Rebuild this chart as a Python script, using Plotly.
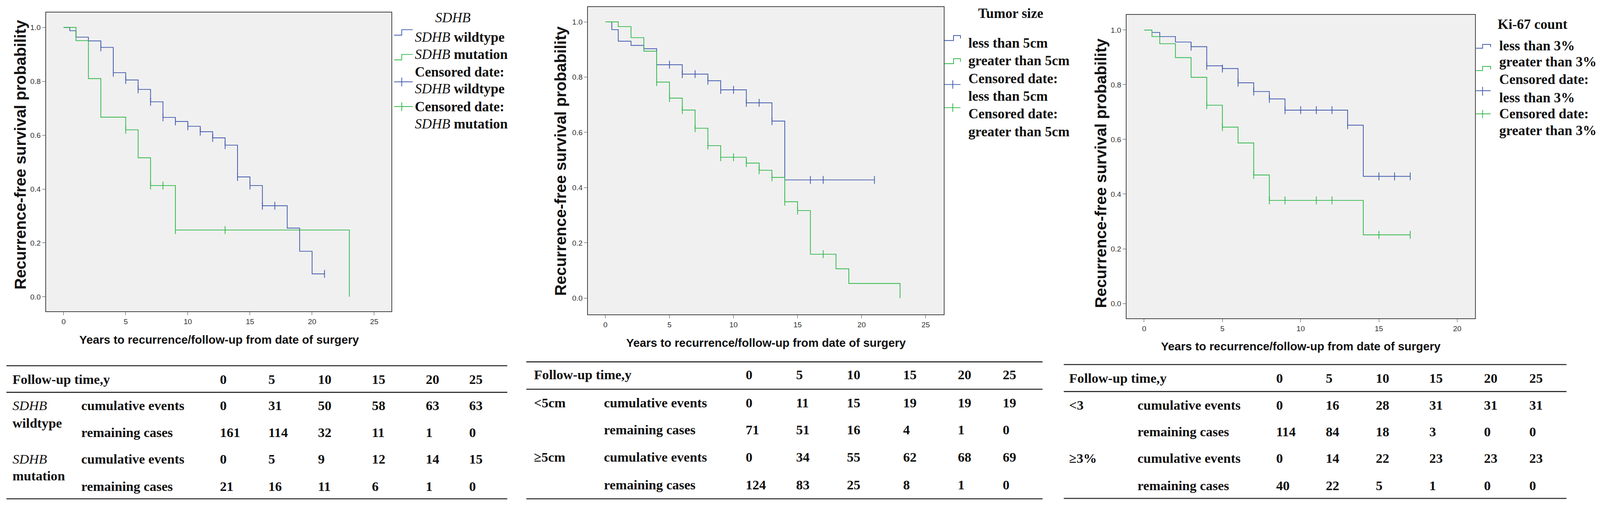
import plotly.graph_objects as go

# reference picture size; positions below are given in its pixels
W, H = 4350, 1293
K = 0.96  # px size factor for fonts / strokes (page renders slightly narrower than W)

BLUE = "#3E58AC"
GREEN = "#2EB848"
INK = "#111111"
RULE = "#333333"
SERIF = "Liberation Serif, Times New Roman, serif"
SANS = "Liberation Sans, Arial, sans-serif"

# ---- Kaplan-Meier curves ----
# panel 1: SDHB
WT_T = [0, 0.5, 1, 2, 3, 4, 5, 6, 7, 8, 9, 10, 11, 12, 13, 14, 15, 16, 18, 19, 20, 21]
WT_S = [1.0, 0.988, 0.964, 0.950, 0.926, 0.832, 0.805, 0.770, 0.724, 0.666, 0.651,
        0.633, 0.613, 0.590, 0.563, 0.445, 0.413, 0.338, 0.255, 0.169, 0.085, 0.085]
WT_CENS = [3, 4, 5, 6, 7, 8, 9, 10, 11, 12, 13, 14, 15, 16, 17, 21]
MUT_T = [0, 1, 2, 3, 5, 6, 7, 9, 23]
MUT_S = [1.0, 0.951, 0.810, 0.667, 0.620, 0.516, 0.413, 0.248, 0.0]
MUT_CENS = [5, 7, 8, 9, 13]

# panel 2: tumor size
LT5_T = [0, 0.5, 1, 2, 3, 4, 6, 8, 9, 11, 13, 14, 21]
LT5_S = [1.0, 0.972, 0.930, 0.915, 0.903, 0.845, 0.811, 0.787, 0.754, 0.707, 0.641, 0.428, 0.428]
LT5_CENS = [4, 5, 6, 7, 8, 9, 10, 11, 12, 13, 16, 17, 21]
GT5_T = [0, 1, 2, 3, 4, 5, 6, 7, 8, 9, 11, 12, 13, 14, 15, 16, 18, 19, 23]
GT5_S = [1.0, 0.983, 0.943, 0.894, 0.782, 0.724, 0.681, 0.615, 0.552, 0.510, 0.489,
         0.463, 0.437, 0.349, 0.317, 0.159, 0.106, 0.053, 0.0]
GT5_CENS = [4, 5, 6, 7, 8, 9, 10, 11, 12, 13, 14, 15, 17]

# panel 3: Ki-67
LT3_T = [0, 0.5, 1, 2, 3, 4, 5, 6, 7, 8, 9, 13, 14, 17]
LT3_S = [1.0, 0.991, 0.976, 0.956, 0.939, 0.869, 0.859, 0.807, 0.775, 0.748, 0.707, 0.652, 0.465, 0.465]
LT3_CENS = [3, 4, 5, 6, 7, 8, 9, 10, 11, 12, 13, 15, 16, 17]
GT3_T = [0, 0.5, 1, 2, 3, 4, 5, 6, 7, 8, 14, 17]
GT3_S = [1.0, 0.976, 0.950, 0.899, 0.827, 0.725, 0.645, 0.587, 0.470, 0.377, 0.251, 0.251]
GT3_CENS = [4, 5, 7, 8, 9, 11, 12, 15, 17]

# ---- risk tables ----
YEARS = [0, 5, 10, 15, 20, 25]
WT_EVENTS = [0, 31, 50, 58, 63, 63]
WT_LEFT = [161, 114, 32, 11, 1, 0]
MUT_EVENTS = [0, 5, 9, 12, 14, 15]
MUT_LEFT = [21, 16, 11, 6, 1, 0]
LT5_EVENTS = [0, 11, 15, 19, 19, 19]
LT5_LEFT = [71, 51, 16, 4, 1, 0]
GT5_EVENTS = [0, 34, 55, 62, 68, 69]
GT5_LEFT = [124, 83, 25, 8, 1, 0]
LT3_EVENTS = [0, 16, 28, 31, 31, 31]
LT3_LEFT = [114, 84, 18, 3, 0, 0]
GT3_EVENTS = [0, 14, 22, 23, 23, 23]
GT3_LEFT = [40, 22, 5, 1, 0, 0]


def fx(x):
    return x / W


def fy(y):
    return 1 - y / H


def at(times, surv, t):
    val = surv[0]
    for ti, si in zip(times, surv):
        if ti <= t:
            val = si
    return val


fig = go.Figure()

curves = [
    ("x", "y", WT_T, WT_S, WT_CENS, BLUE),
    ("x", "y", MUT_T, MUT_S, MUT_CENS, GREEN),
    ("x2", "y2", LT5_T, LT5_S, LT5_CENS, BLUE),
    ("x2", "y2", GT5_T, GT5_S, GT5_CENS, GREEN),
    ("x3", "y3", LT3_T, LT3_S, LT3_CENS, BLUE),
    ("x3", "y3", GT3_T, GT3_S, GT3_CENS, GREEN),
]
for xa, ya, t, s, cens, col in curves:
    fig.add_trace(go.Scatter(x=t, y=s, mode="lines", xaxis=xa, yaxis=ya,
                             line=dict(shape="hv", color=col, width=2 * K),
                             showlegend=False, hoverinfo="skip"))
    fig.add_trace(go.Scatter(x=cens, y=[at(t, s, c) for c in cens], mode="markers",
                             xaxis=xa, yaxis=ya, showlegend=False, hoverinfo="skip",
                             marker=dict(symbol="line-ns", size=15 * K, color=col,
                                         line=dict(width=2 * K, color=col))))

# plot boxes in pixels: (left, right, top, bottom), x range, y range
boxes = [
    ((117, 1060, 24, 799), [-1.415, 26.39], [-0.054, 1.056]),
    ((1596, 2567, 10, 807), [-1.37, 26.4], [-0.059, 1.054]),
    ((3066, 4017, 30, 817), [-1.13, 21.13], [-0.054, 1.056]),
]

axis_style = dict(showline=True, mirror=True, linecolor="#444444", linewidth=2 * K,
                  ticks="outside", ticklen=8 * K, tickwidth=1.5 * K, tickcolor="#444444",
                  showgrid=False, zeroline=False,
                  tickfont=dict(family=SANS, size=20 * K, color="#333333"))
layout_axes = {}
for i, ((l, r, t, b), xr, yr) in enumerate(boxes, start=1):
    sfx = "" if i == 1 else str(i)
    layout_axes["xaxis" + sfx] = dict(axis_style, domain=[fx(l), fx(r)], range=xr,
                                      dtick=5, tick0=0, anchor="y" + sfx)
    layout_axes["yaxis" + sfx] = dict(axis_style, domain=[fy(b), fy(t)], range=yr,
                                      dtick=0.2, tick0=0, tickformat=".1f",
                                      anchor="x" + sfx)

ann = []
shapes = []


def text(x, y, s, size=36, family=SERIF, xanchor="left", angle=0):
    ann.append(dict(x=fx(x), y=fy(y), xref="paper", yref="paper", text=s,
                    showarrow=False, xanchor=xanchor, yanchor="middle",
                    textangle=angle,
                    font=dict(family=family, size=size * K, color=INK)))


def path(points, col, width=2):
    d = "M " + " L ".join(f"{fx(x):.5f},{fy(y):.5f}" for x, y in points)
    shapes.append(dict(type="path", path=d, xref="paper", yref="paper",
                       line=dict(color=col, width=width * K)))


# axis titles
for xc, yc in [(47, 393), (1521, 409), (2995, 441)]:
    text(xc, yc, "<b>Recurrence-free survival probability</b>", size=42,
         family=SANS, xanchor="center", angle=-90)
for xc, yc in [(590, 872), (2082, 880), (3542, 890)]:
    text(xc, yc, "<b>Years to recurrence/follow-up from date of surgery</b>",
         size=31, family=SANS, xanchor="center")

# legends
text(1228, 37, "<i>SDHB</i>", size=37, xanchor="center")
for y, s in zip([88, 133, 178, 222, 268, 313],
                ["<i>SDHB</i> <b>wildtype</b>", "<i>SDHB</i> <b>mutation</b>",
                 "<b>Censored date:</b>", "<i>SDHB</i> <b>wildtype</b>",
                 "<b>Censored date:</b>", "<i>SDHB</i> <b>mutation</b>"]):
    text(1122, y, s, size=37)
path([(1067, 83), (1088, 83), (1088, 69), (1118, 69)], BLUE)
path([(1067, 147), (1088, 147), (1088, 133), (1118, 133)], GREEN)
path([(1067, 204), (1118, 204)], BLUE)
path([(1088, 193), (1088, 216)], BLUE)
path([(1067, 268), (1118, 268)], GREEN)
path([(1088, 257), (1088, 280)], GREEN)

text(2750, 26, "<b>Tumor size</b>", size=37, xanchor="center")
for y, s in zip([103, 149, 195, 241, 287, 333],
                ["less than 5cm", "greater than 5cm", "Censored date:",
                 "less than 5cm", "Censored date:", "greater than 5cm"]):
    text(2632, y, "<b>" + s + "</b>", size=37)
path([(2569, 97), (2594, 97), (2594, 84), (2613, 84), (2613, 92)], BLUE)
path([(2569, 157), (2594, 157), (2594, 144), (2613, 144), (2613, 152)], GREEN)
path([(2569, 211), (2613, 211)], BLUE)
path([(2592, 200), (2592, 222)], BLUE)
path([(2569, 271), (2613, 271)], GREEN)
path([(2592, 260), (2592, 282)], GREEN)

text(4175, 55, "<b>Ki-67 count</b>", size=37, xanchor="center")
for y, s in zip([110, 152, 197, 245, 287, 330],
                ["less than 3%", "greater than 3%", "Censored date:",
                 "less than 3%", "Censored date:", "greater than 3%"]):
    text(4081, y, "<b>" + s + "</b>", size=37)
path([(4020, 117), (4038, 117), (4038, 107), (4060, 107), (4060, 114)], BLUE)
path([(4020, 175), (4038, 175), (4038, 164), (4060, 164), (4060, 172)], GREEN)
path([(4020, 227), (4060, 227)], BLUE)
path([(4038, 217), (4038, 240)], BLUE)
path([(4020, 287), (4060, 287)], GREEN)
path([(4038, 277), (4038, 298)], GREEN)

# risk tables
tables = [
    dict(lines=(9, 1376, [940, 1009, 1285]), lab_x=23, sub_x=211,
         cols=[590, 722, 857, 1004, 1151, 1270], rows=[975, 1043, 1113, 1182, 1252],
         groups=[("<i>SDHB</i>", "<b>wildtype</b>", 1088, WT_EVENTS, WT_LEFT),
                 ("<i>SDHB</i>", "<b>mutation</b>", 1225, MUT_EVENTS, MUT_LEFT)]),
    dict(lines=(1428, 2837, [930, 1001, 1285]), lab_x=1447, sub_x=1638,
         cols=[2025, 2162, 2301, 2454, 2604, 2726], rows=[963, 1036, 1106, 1177, 1248],
         groups=[("<b>&lt;5cm</b>", None, None, LT5_EVENTS, LT5_LEFT),
                 ("<b>≥5cm</b>", None, None, GT5_EVENTS, GT5_LEFT)]),
    dict(lines=(2895, 4267, [937, 1007, 1284]), lab_x=2907, sub_x=3094,
         cols=[3473, 3608, 3744, 3890, 4040, 4163], rows=[972, 1042, 1111, 1180, 1250],
         groups=[("<b>&lt;3</b>", None, None, LT3_EVENTS, LT3_LEFT),
                 ("<b>≥3%</b>", None, None, GT3_EVENTS, GT3_LEFT)]),
]
for tb in tables:
    x0, x1, ys = tb["lines"]
    for y in ys:
        path([(x0, y), (x1, y)], RULE, width=3)
    rows = tb["rows"]
    text(tb["lab_x"], rows[0], "<b>Follow-up time,y</b>")
    for cx, yr in zip(tb["cols"], YEARS):
        text(cx, rows[0], f"<b>{yr}</b>")
    for gi, (lab, lab2, y2, events, left) in enumerate(tb["groups"]):
        r_ev, r_left = rows[1 + 2 * gi], rows[2 + 2 * gi]
        text(tb["lab_x"], r_ev, lab)
        if lab2:
            text(tb["lab_x"], y2, lab2)
        text(tb["sub_x"], r_ev, "<b>cumulative events</b>")
        text(tb["sub_x"], r_left, "<b>remaining cases</b>")
        for cx, e, n in zip(tb["cols"], events, left):
            text(cx, r_ev, f"<b>{e}</b>")
            text(cx, r_left, f"<b>{n}</b>")

# no fixed width/height: the figure fills the browser window
fig.update_layout(
    autosize=True,
    margin=dict(l=0, r=0, t=0, b=0),
    paper_bgcolor="white",
    plot_bgcolor="#F0F0F0",
    showlegend=False,
    annotations=ann,
    shapes=shapes,
    **layout_axes,
)

fig.write_html("out.html")
